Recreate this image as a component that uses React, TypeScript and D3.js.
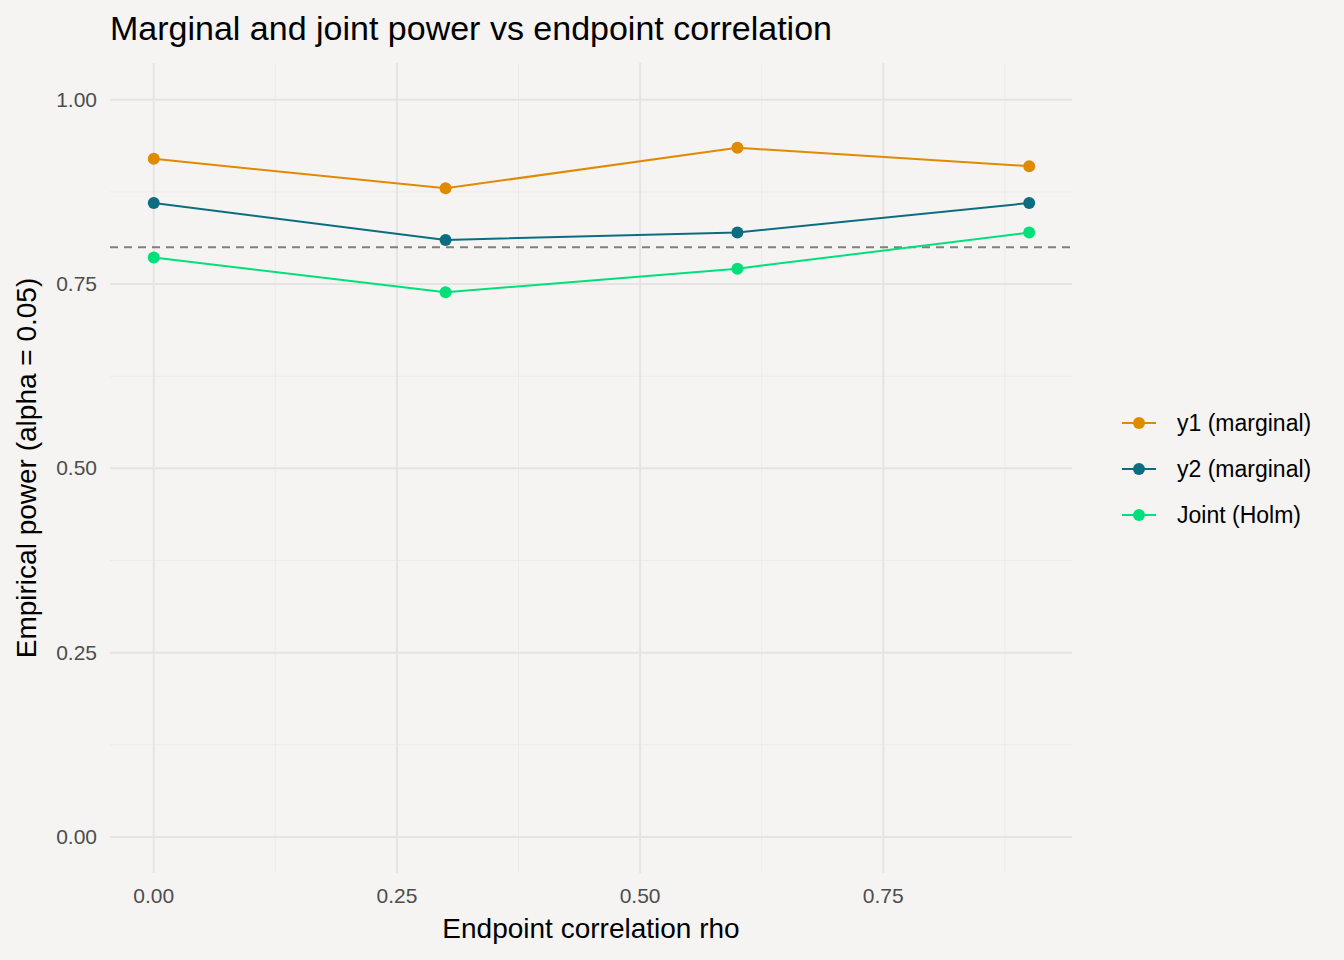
import * as d3 from 'd3';

const rho = [0, 0.3, 0.6, 0.9];
const y1 = [0.92, 0.88, 0.935, 0.91];
const y2 = [0.86, 0.81, 0.82, 0.86];
const joint = [0.786, 0.739, 0.771, 0.82];
const seriesNames = ['y1 (marginal)', 'y2 (marginal)', 'Joint (Holm)'];
const seriesColors = ['#E08A00', '#0B6E80', '#00E07A'];
const xTicks = [0, 0.25, 0.5, 0.75];
const yTicks = [0, 0.25, 0.5, 0.75, 1];

export default function App() {
  const W = 1344, H = 960;
  const left = 110, right = 1072, top = 63, bottom = 873;
  const x = d3.scaleLinear().domain([-0.045, 0.944]).range([left, right]);
  const y = d3.scaleLinear().domain([-0.049, 1.05]).range([bottom, top]);
  const series = [y1, y2, joint];
  const ln = d3.line<number>().x((_, i) => x(rho[i])).y((d) => y(d));
  const xMinor = [0.125, 0.375, 0.625, 0.875];
  const yMinor = [0.125, 0.375, 0.625, 0.875];
  const font = 'Liberation Sans, Arial, sans-serif';
  return (
    <svg width={W} height={H} style={{ position: 'absolute', left: 0, top: 0 }} fontFamily={font}>
      <rect width={W} height={H} fill="#f5f4f2" />
      {xMinor.map((t) => <line key={'xm' + t} x1={x(t)} x2={x(t)} y1={top} y2={bottom} stroke="#ecebe8" strokeWidth={1} />)}
      {yMinor.map((t) => <line key={'ym' + t} x1={left} x2={right} y1={y(t)} y2={y(t)} stroke="#ecebe8" strokeWidth={1} />)}
      {xTicks.map((t) => <line key={'x' + t} x1={x(t)} x2={x(t)} y1={top} y2={bottom} stroke="#e6e4e1" strokeWidth={2} />)}
      {yTicks.map((t) => <line key={'y' + t} x1={left} x2={right} y1={y(t)} y2={y(t)} stroke="#e6e4e1" strokeWidth={2} />)}
      <line x1={left} x2={right} y1={y(0.8)} y2={y(0.8)} stroke="#7f7f7f" strokeWidth={2} strokeDasharray="8,6" />
      {series.map((s, k) => (
        <g key={k}>
          <path d={ln(s) ?? ''} fill="none" stroke={seriesColors[k]} strokeWidth={2} />
          {s.map((v, i) => <circle key={i} cx={x(rho[i])} cy={y(v)} r={6} fill={seriesColors[k]} />)}
        </g>
      ))}
      {xTicks.map((t) => (
        <text key={'xt' + t} x={x(t)} y={903} textAnchor="middle" fontSize={21} fill="#4d4d4d">{t.toFixed(2)}</text>
      ))}
      {yTicks.map((t) => (
        <text key={'yt' + t} x={97} y={y(t) + 7} textAnchor="end" fontSize={21} fill="#4d4d4d">{t.toFixed(2)}</text>
      ))}
      <text x={591} y={938} textAnchor="middle" fontSize={28} fill="#000">Endpoint correlation rho</text>
      <text transform={`translate(36,468) rotate(-90)`} textAnchor="middle" fontSize={28} fill="#000">Empirical power (alpha = 0.05)</text>
      <text x={110} y={40} fontSize={34} fill="#000">Marginal and joint power vs endpoint correlation</text>
      {seriesNames.map((n, k) => (
        <g key={n} transform={`translate(0,${423 + k * 46})`}>
          <line x1={1122} x2={1156} y1={0} y2={0} stroke={seriesColors[k]} strokeWidth={2} />
          <circle cx={1139} cy={0} r={6} fill={seriesColors[k]} />
          <text x={1177} y={8} fontSize={23} fill="#000">{n}</text>
        </g>
      ))}
    </svg>
  );
}
